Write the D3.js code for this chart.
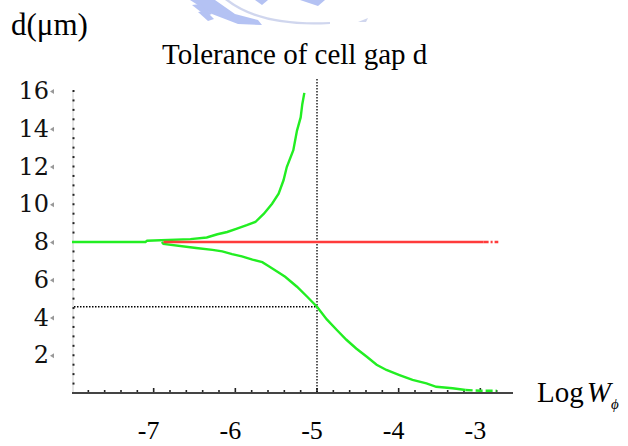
<!DOCTYPE html>
<html>
<head>
<meta charset="utf-8">
<script src="https://cdn.jsdelivr.net/npm/d3@7"></script>
<style>
  body { margin: 0; background: #fff; }
  svg { display: block; }
  .ylab { font-family: "DejaVu Serif", serif; }
  .serif { font-family: "Liberation Serif", "Times New Roman", serif; }
</style>
</head>
<body>
<div id="chart"></div>
<script>
// log W values and cell gap d (um)
const upperLogW = [-8, -7.1, -7.08, -6.55, -6.35, -6.22, -6.10, -5.98, -5.86, -5.755, -5.65, -5.55, -5.47, -5.41, -5.37, -5.29, -5.245, -5.20, -5.18, -5.155];
const upperD    = [8.0, 8.0, 8.07, 8.15, 8.24, 8.41, 8.53, 8.71, 8.89, 9.06, 9.5, 10.03, 10.56, 11.27, 11.97, 12.86, 13.9, 14.6, 15.3, 15.9];

const lowerLogW = [-6.9, -6.88, -6.48, -6.28, -6.16, -6.04, -5.92, -5.79, -5.67, -5.59, -5.47, -5.39, -5.245, -5.12, -5.0, -4.88, -4.76, -4.64, -4.52, -4.39, -4.27, -4.15, -3.99, -3.83, -3.66, -3.54, -3.34, -3.18, -3.0, -2.8];
const lowerD    = [8.0, 7.9, 7.68, 7.58, 7.5, 7.36, 7.24, 7.07, 6.93, 6.72, 6.39, 6.16, 5.63, 5.1, 4.57, 3.9, 3.35, 2.82, 2.36, 1.92, 1.5, 1.22, 0.95, 0.69, 0.51, 0.33, 0.25, 0.16, 0.12, 0.12];

const nominalD = 8;
const nominalRange = [-6.88, -2.78];
const markLogW = -5;
const markD = 4.57;

const xTicks = [-7, -6, -5, -4, -3];
const yTicks = [2, 4, 6, 8, 10, 12, 14, 16];

const W = 628, H = 446;
const svg = d3.select("#chart").append("svg")
    .attr("width", W)
    .attr("height", H);

// faint watermark at the top
const wm = svg.append("g").attr("fill", "#a8b8f2").attr("opacity", 0.85);
wm.append("path").attr("d", "M190,0 L215,0 L235,14 L258,20 L262,25 L238,24 L212,14 Z");
wm.append("path").attr("d", "M192,5 L200,4 L212,14 L206,16 Z");
wm.append("path").attr("d", "M198,12 L206,11 L214,19 L208,21 Z");
wm.append("path").attr("d", "M255,0 L268,0 L262,5 Z");
wm.append("path").attr("d", "M225,0 Q260,28 330,24 L330,22 Q262,25 229,0 Z").attr("fill", "#c8d0ec");
wm.append("path").attr("d", "M300,0 L325,0 L318,6 Z");
wm.append("path").attr("d", "M358,22 L368,18 L366,22 Z").attr("fill", "#c8d0ec");

const x = d3.scaleLinear().domain([-8, -2.6]).range([72, 513]);
const y = d3.scaleLinear().domain([0, 16]).range([393, 91]);

// y axis: thin line with dot ticks every 0.5
svg.append("line")
    .attr("x1", 73).attr("x2", 73)
    .attr("y1", y(16)).attr("y2", y(0))
    .attr("stroke", "#ccc").attr("stroke-width", 1);
svg.append("g")
    .selectAll("rect")
    .data(d3.range(0.5, 16.01, 0.5))
    .join("rect")
    .attr("x", 72.5).attr("y", d => y(d) - 1)
    .attr("width", 2).attr("height", 2)
    .attr("fill", "#222");

// x axis
svg.append("line")
    .attr("x1", 72).attr("x2", 513)
    .attr("y1", 393).attr("y2", 393)
    .attr("stroke", "#444").attr("stroke-width", 2);
svg.append("g")
    .selectAll("line")
    .data(d3.range(-7.8, -2.61, 0.2))
    .join("line")
    .attr("x1", d => x(d)).attr("x2", d => x(d))
    .attr("y1", 392)
    .attr("y2", d => Math.abs(d - Math.round(d)) < 0.01 ? 388 : 390)
    .attr("stroke", "#222").attr("stroke-width", 1.6);

// y tick labels with the little grey arrow
const yl = svg.append("g");
yl.selectAll("text.num")
    .data(yTicks)
    .join("text")
    .attr("class", "num ylab")
    .attr("x", 49)
    .attr("y", d => y(d) + 8)
    .attr("text-anchor", "end")
    .attr("font-size", 24)
    .attr("fill", "#111")
    .text(d => d);
yl.selectAll("path")
    .data(yTicks)
    .join("path")
    .attr("d", d => `M50,${y(d) + 0.5} L54,${y(d) - 2} L54,${y(d) + 3} Z`)
    .attr("fill", "#999");

// x tick labels
svg.append("g")
    .selectAll("text")
    .data(xTicks)
    .join("text")
    .attr("class", "serif")
    .attr("x", d => x(d) - 5)
    .attr("y", 439)
    .attr("text-anchor", "middle")
    .attr("font-size", 26)
    .attr("fill", "#000")
    .text(d => d);

// dotted guide lines
svg.append("line")
    .attr("x1", x(markLogW)).attr("x2", x(markLogW))
    .attr("y1", 79).attr("y2", 392)
    .attr("stroke", "#000").attr("stroke-width", 1.3)
    .attr("stroke-dasharray", "1.5,1.5");
svg.append("line")
    .attr("x1", 74).attr("x2", x(markLogW))
    .attr("y1", y(markD)).attr("y2", y(markD))
    .attr("stroke", "#000").attr("stroke-width", 1.3)
    .attr("stroke-dasharray", "1.5,1.5");

// green tolerance curves
const line = d3.line()
    .x(d => x(d[0]))
    .y(d => y(d[1]));

const lowerPts = d3.zip(lowerLogW, lowerD);
const upperPts = d3.zip(upperLogW, upperD);

svg.append("path")
    .datum(lowerPts.slice(0, lowerPts.length - 2))
    .attr("d", line)
    .attr("fill", "none")
    .attr("stroke", "#22ee22")
    .attr("stroke-width", 2.4);
svg.append("path")
    .datum(lowerPts.slice(lowerPts.length - 3))
    .attr("d", line)
    .attr("fill", "none")
    .attr("stroke", "#22ee22")
    .attr("stroke-width", 2.4)
    .attr("stroke-dasharray", "7,3");

svg.append("path")
    .datum(upperPts)
    .attr("d", line)
    .attr("fill", "none")
    .attr("stroke", "#22ee22")
    .attr("stroke-width", 2.4);

// nominal d = 8
svg.append("line")
    .attr("x1", x(nominalRange[0])).attr("x2", x(-2.96))
    .attr("y1", y(nominalD)).attr("y2", y(nominalD))
    .attr("stroke", "#ff3b3b").attr("stroke-width", 2.4);
svg.append("line")
    .attr("x1", x(-2.96)).attr("x2", x(nominalRange[1]))
    .attr("y1", y(nominalD)).attr("y2", y(nominalD))
    .attr("stroke", "#ff3b3b").attr("stroke-width", 2.4)
    .attr("stroke-dasharray", "5,2,2,2");

// titles
svg.append("text")
    .attr("class", "serif")
    .attr("x", 11).attr("y", 35)
    .attr("font-size", 31)
    .text("d(μm)");
svg.append("text")
    .attr("class", "serif")
    .attr("x", 162).attr("y", 64)
    .attr("font-size", 29)
    .text("Tolerance of cell gap d");

const xl = svg.append("text")
    .attr("class", "serif")
    .attr("x", 537).attr("y", 402)
    .attr("font-size", 29);
xl.append("tspan").text("Log");
xl.append("tspan").attr("dx", 3).attr("font-style", "italic").text("W");
xl.append("tspan").attr("font-style", "italic").attr("font-size", 15).attr("dy", 7).text("ϕ");
</script>
</body>
</html>
